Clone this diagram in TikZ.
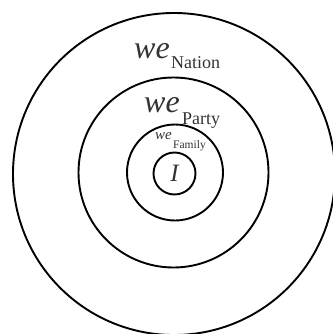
\documentclass[tikz,border=0pt]{standalone}
\usepackage{fontspec}
\setmainfont{Liberation Serif}
\definecolor{labelgray}{HTML}{333333}
\tikzset{
  ring/.style={circle, draw=black, line width=1.9pt, inner sep=0pt},
  weword/.style={anchor=base west, inner sep=0pt, text=labelgray, font=\itshape},
  subword/.style={anchor=base west, inner sep=0pt, text=labelgray}
}
\begin{document}
\begin{tikzpicture}[x=1pt, y=-1pt]
    \useasboundingbox (0,0) rectangle (332,334);
    % rings, outer to inner
    \node (nation) [ring, minimum size=322pt] at (174,174) {};
    \node (party) [ring, minimum size=190pt] at (173.5,172.5) {};
    \node (family) [ring, minimum size=96pt] at (175,172.5) {};
    \node (self) [ring, minimum size=42pt, font=\fontsize{25}{25}\selectfont\itshape, text=labelgray] at (174.5,173.5) {I};

    % labels
    \node (weN) [weword, font=\fontsize{32}{32}\selectfont\itshape] at (134,59) {we};
    \node (subN) [subword, font=\fontsize{18}{18}\selectfont] at (171,69) {Nation};
    \node (weP) [weword, font=\fontsize{32}{32}\selectfont\itshape] at (144,112) {we};
    \node (subP) [subword, font=\fontsize{18}{18}\selectfont] at (182,124) {Party};
    \node (weF) [weword, font=\fontsize{15}{15}\selectfont\itshape] at (155,139) {we};
    \node (subF) [subword, font=\fontsize{11.5}{11.5}\selectfont] at (173,148) {Family};
\end{tikzpicture}
\end{document}
